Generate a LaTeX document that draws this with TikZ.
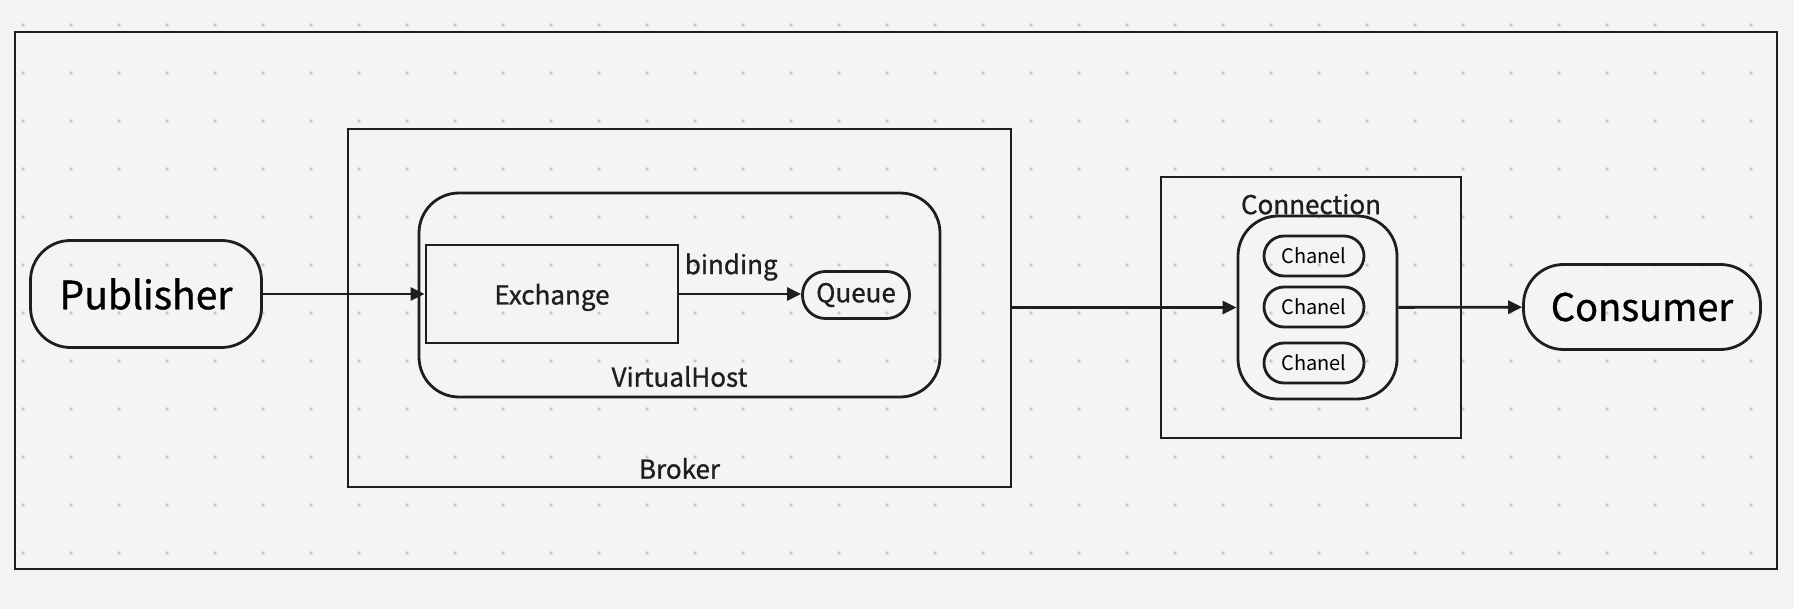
\documentclass[tikz,border=0pt]{standalone}
\usepackage{fontspec}
\setmainfont{Noto Sans CJK SC}
\newfontfamily\medfont{Noto Sans CJK SC}[FakeBold=0.9]
\usetikzlibrary{positioning,arrows.meta}
\definecolor{canvas}{HTML}{F4F4F6}
\definecolor{griddot}{HTML}{C9C9CD}
\definecolor{ink}{HTML}{1E1E1E}

\begin{document}
\begin{tikzpicture}[x=0.5pt, y=-0.5pt, line width=1.4pt, draw=ink,
    frame/.style={draw=ink, line width=1.4pt, inner sep=0pt},
    pill/.style={draw=ink, line width=1.4pt, rounded corners=#1, align=center, inner sep=0pt},
    pill/.default=20pt,
    tag/.style={font=\medfont\fontsize{13}{15}\selectfont, text=ink, inner sep=0pt},
    flow/.style={-{Triangle[length=7pt, width=6.5pt]}, line width=1.4pt, ink}]
    % canvas and dot grid
    \fill[canvas] (0,0) rectangle (1794,609);
    \useasboundingbox (0,0) rectangle (1794,609);
    \foreach \gx in {23,71,...,1780}
      \foreach \gy in {25,73,...,600}
        \fill[griddot] (\gx,\gy) circle (0.9pt);
    \draw[ink, line width=1.4pt] (15,32) rectangle (1777,569);

    % broker side
    \node[pill=20pt, minimum width=115.5pt, minimum height=53.5pt,
      font=\medfont\fontsize{19.5}{22}\selectfont] (publisher) at (146,294) {Publisher};
    \node[frame, minimum width=331.5pt, minimum height=179pt] (broker) at (679.5,308) {};
    \node[tag, above=4pt of broker.south] (brokername) {Broker};
    \node[pill=20pt, minimum width=260.5pt, minimum height=102pt] (vhost) at (679.5,295) {};
    \node[tag, above=5pt of vhost.south] (vhostname) {VirtualHost};
    \node[frame, minimum width=126pt, minimum height=49pt, tag,
      text height=11pt, text depth=0.5pt] (exchange) at (552,294) {Exchange};
    \node[pill=11.5pt, minimum width=53.5pt, minimum height=23.5pt, tag] (queue) at (856,295) {Queue};
    \draw[flow] (publisher) -- (exchange);
    \draw[flow] (exchange.east) -- (queue.west |- exchange.east);
    \node[tag, anchor=south west, xshift=2pt, yshift=6pt] (bindname) at (exchange.east) {binding};

    % connection side
    \node[frame, minimum width=150pt, minimum height=130.5pt] (connection) at (1311,307.5) {};
    \node[tag, below=8.5pt of connection.north] (connname) {Connection};
    \node[pill=20pt, minimum width=79.5pt, minimum height=91.5pt] (channels) at (1317.5,307.5) {};
    \node[pill=10pt, minimum width=50pt, minimum height=20pt, font=\fontsize{10}{12}\selectfont] (chanA) at (1314,256) {Chanel};
    \node[pill=10pt, minimum width=50pt, minimum height=20pt, font=\fontsize{10}{12}\selectfont] (chanB) at (1314,307) {Chanel};
    \node[pill=10pt, minimum width=50pt, minimum height=20pt, font=\fontsize{10}{12}\selectfont] (chanC) at (1314,363) {Chanel};
    \node[pill=20pt, minimum width=118.5pt, minimum height=42.5pt,
      font=\medfont\fontsize{19}{22}\selectfont] (consumer) at (1642,307) {Consumer};
    \draw[flow] (broker.east |- channels.west) -- (channels.west);
    \draw[flow] (channels) -- (consumer);
  \end{tikzpicture}
\end{document}
